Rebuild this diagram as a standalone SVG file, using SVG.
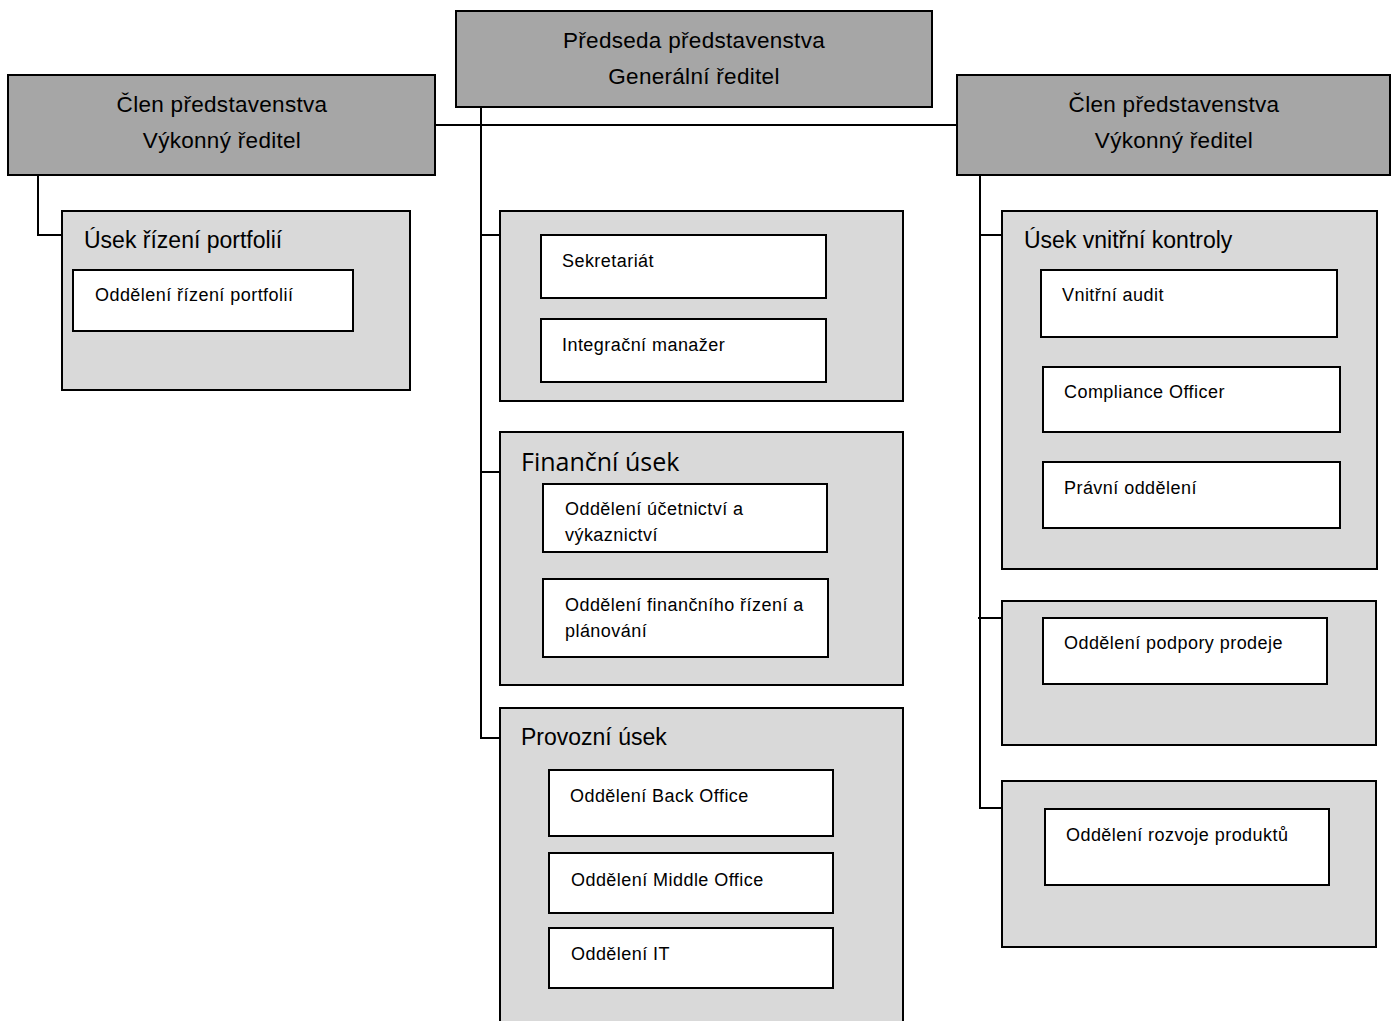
<svg xmlns="http://www.w3.org/2000/svg" width="1398" height="1021" viewBox="0 0 1398 1021">
<style>
.top{fill:#a6a6a6;stroke:#000;stroke-width:2}
.grp{fill:#d9d9d9;stroke:#000;stroke-width:2}
.box{fill:#fff;stroke:#000;stroke-width:2}
.conn{fill:none;stroke:#000;stroke-width:2}
.t1{font-family:"Liberation Sans",Arial,sans-serif;font-size:22.5px;fill:#000;text-anchor:middle;letter-spacing:0.3px}
.t2{font-family:"Liberation Sans",Arial,sans-serif;font-size:23px;fill:#000}
.t3{font-family:"Liberation Sans",Arial,sans-serif;font-size:18px;fill:#000;letter-spacing:0.45px}
.t4{font-family:"Open Sans","Liberation Sans",sans-serif;font-size:25px;fill:#000}
</style>
<rect width="1398" height="1021" fill="#fff"/>
<g id="connectors">
<path class="conn" d="M435 125H957"/>
<path class="conn" d="M481 107V738H500"/>
<path class="conn" d="M481 235H500"/>
<path class="conn" d="M481 472H500"/>
<path class="conn" d="M38 175V235H62"/>
<path class="conn" d="M980 175V808H1002"/>
<path class="conn" d="M980 235H1002"/>
<path class="conn" d="M978 618H1002"/>
</g>
<g id="ceo">
<rect class="top" x="456" y="11" width="476" height="96"/>
<text class="t1" x="694" y="48">Předseda představenstva</text>
<text class="t1" x="694" y="84">Generální ředitel</text>
</g>
<g id="exec-left">
<rect class="top" x="8" y="75" width="427" height="100"/>
<text class="t1" x="222" y="112">Člen představenstva</text>
<text class="t1" x="222" y="148">Výkonný ředitel</text>
</g>
<g id="exec-right">
<rect class="top" x="957" y="75" width="433" height="100"/>
<text class="t1" x="1174" y="112">Člen představenstva</text>
<text class="t1" x="1174" y="148">Výkonný ředitel</text>
</g>
<g id="usek-portfolii">
<rect class="grp" x="62" y="211" width="348" height="179"/>
<text class="t2" x="84" y="248">Úsek řízení portfolií</text>
<rect class="box" x="73" y="270" width="280" height="61"/>
<text class="t3" x="95" y="301">Oddělení řízení portfolií</text>
</g>
<g id="staff">
<rect class="grp" x="500" y="211" width="403" height="190"/>
<rect class="box" x="541" y="235" width="285" height="63"/>
<text class="t3" x="562" y="267">Sekretariát</text>
<rect class="box" x="541" y="319" width="285" height="63"/>
<text class="t3" x="562" y="351">Integrační manažer</text>
</g>
<g id="financni-usek">
<rect class="grp" x="500" y="432" width="403" height="253"/>
<text class="t4" x="521" y="471">Finanční úsek</text>
<rect class="box" x="543" y="484" width="284" height="68"/>
<text class="t3" x="565" y="515">Oddělení účetnictví a</text>
<text class="t3" x="565" y="541">výkaznictví</text>
<rect class="box" x="543" y="579" width="285" height="78"/>
<text class="t3" x="565" y="611">Oddělení finančního řízení a</text>
<text class="t3" x="565" y="637">plánování</text>
</g>
<g id="provozni-usek">
<path class="grp" d="M500 1030V708H903V1030"/>
<text class="t2" x="521" y="745">Provozní úsek</text>
<rect class="box" x="549" y="770" width="284" height="66"/>
<text class="t3" x="570" y="802">Oddělení Back Office</text>
<rect class="box" x="549" y="853" width="284" height="60"/>
<text class="t3" x="571" y="886">Oddělení Middle Office</text>
<rect class="box" x="549" y="928" width="284" height="60"/>
<text class="t3" x="571" y="960">Oddělení IT</text>
</g>
<g id="usek-kontroly">
<rect class="grp" x="1002" y="211" width="375" height="358"/>
<text class="t2" x="1024" y="248">Úsek vnitřní kontroly</text>
<rect class="box" x="1041" y="270" width="296" height="67"/>
<text class="t3" x="1062" y="301">Vnitřní audit</text>
<rect class="box" x="1043" y="367" width="297" height="65"/>
<text class="t3" x="1064" y="398">Compliance Officer</text>
<rect class="box" x="1043" y="462" width="297" height="66"/>
<text class="t3" x="1064" y="494">Právní oddělení</text>
</g>
<g id="podpora-prodeje">
<rect class="grp" x="1002" y="601" width="374" height="144"/>
<rect class="box" x="1043" y="618" width="284" height="66"/>
<text class="t3" x="1064" y="649">Oddělení podpory prodeje</text>
</g>
<g id="rozvoj-produktu">
<rect class="grp" x="1002" y="781" width="374" height="166"/>
<rect class="box" x="1045" y="809" width="284" height="76"/>
<text class="t3" x="1066" y="841">Oddělení rozvoje produktů</text>
</g>
</svg>
